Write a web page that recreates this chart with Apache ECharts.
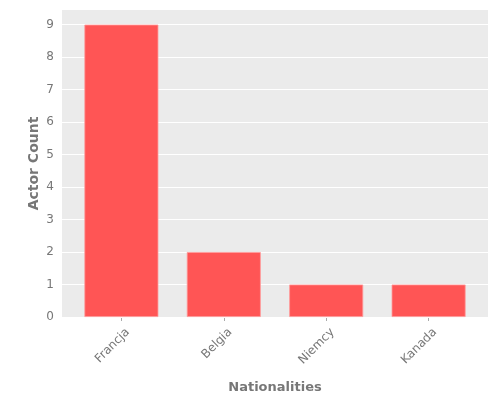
<!DOCTYPE html>
<html><head><meta charset="utf-8">
<script src="https://cdn.jsdelivr.net/npm/echarts@6/dist/echarts.min.js"></script>
<style>html,body{margin:0;padding:0;background:#fff}#c{width:500px;height:400px}</style>
</head><body><div id="c"></div>
<script>
const categories = ["Francja", "Belgia", "Niemcy", "Kanada"];
const actorCounts = [9, 2, 1, 1];
const yTicks = [0, 1, 2, 3, 4, 5, 6, 7, 8, 9];

const chart = echarts.init(document.getElementById('c'), null, {renderer: 'canvas'});
const font = 'DejaVu Sans';
chart.setOption({
  animation: false,
  backgroundColor: '#fff',
  grid: {left: 62, right: 12, top: 10, bottom: 83, show: true, backgroundColor: '#EBEBEB', borderWidth: 0},
  xAxis: {
    type: 'value', min: -0.58, max: 3.58,
    name: 'Nationalities', nameLocation: 'middle', nameGap: 64, nameMoveOverlap: false,
    nameTextStyle: {fontFamily: font, fontSize: 13, fontWeight: 'bold', color: '#777'},
    axisLine: {show: false},
    splitLine: {show: false},
    axisTick: {show: true, customValues: [0, 1, 2, 3], length: 4, lineStyle: {color: '#aaa'}},
    axisLabel: {
      customValues: [0, 1, 2, 3], rotate: 45, margin: 7,
      verticalAlign: 'top', padding: [3, 0, 0, 0],
      fontFamily: font, fontSize: 12, color: '#777',
      formatter: v => categories[Math.round(v)] || ''
    }
  },
  yAxis: {
    type: 'value', min: 0, max: 9.45,
    name: 'Actor Count', nameLocation: 'middle', nameGap: 21, nameRotate: 90, nameMoveOverlap: false,
    nameTextStyle: {fontFamily: font, fontSize: 14, fontWeight: 'bold', color: '#777'},
    axisLine: {show: false},
    axisTick: {show: true, customValues: yTicks, length: 4, lineStyle: {color: '#aaa'}},
    axisLabel: {customValues: yTicks, fontFamily: font, fontSize: 12, color: '#777', margin: 8},
    splitLine: {show: false}
  },
  series: [
    {
      type: 'line', silent: true, symbol: 'none', data: [],
      markLine: {
        z: 1, silent: true, symbol: 'none', label: {show: false},
        lineStyle: {color: '#fff', width: 1, type: 'solid'},
        data: yTicks.map(t => ({yAxis: t}))
      },
      z: 1
    },
    {
      type: 'bar', barWidth: 74, z: 3,
      data: categories.map((c, i) => [i, actorCounts[i]]),
      itemStyle: {color: '#FF5555', borderColor: '#FF9A9A', borderWidth: 0.8}
    }
  ]
});
</script></body></html>
